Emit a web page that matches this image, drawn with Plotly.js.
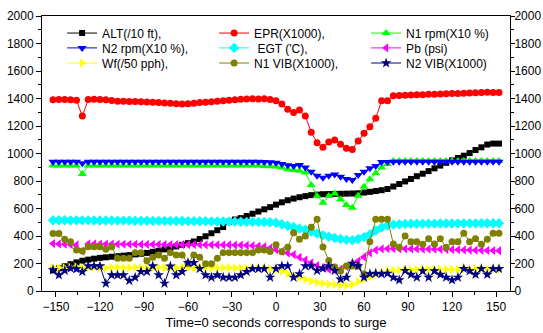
<!DOCTYPE html>
<html>
<head>
<meta charset="utf-8">
<script src="https://cdn.plot.ly/plotly-3.0.1.min.js"></script>
<style>html,body{margin:0;padding:0;background:#fff;}#chart{width:543px;height:333px;}</style>
</head>
<body>
<div id="chart"></div>
<script>
// Time (s), 0 = surge
var time = [-152,-148,-144,-140,-136,-132,-128,-124,-120,-116,-112,-108,-104,-100,-96,-92,-88,-84,-80,-76,-72,-68,-64,-60,-56,-52,-48,-44,-40,-36,-32,-28,-24,-20,-16,-12,-8,-4,0,4,8,12,16,20,24,28,32,36,40,44,48,52,56,60,64,68,72,76,80,84,88,92,96,100,104,108,112,116,120,124,128,132,136,140,144,148,152];

var alt = [150,165,180,195,208,220,228,235,241,245,249,253,257,261,266,271,277,285,293,303,313,324,336,348,360,378,398,420,442,465,505,520,530,545,562,578,594,610,628,645,660,672,682,690,697,701,704,705,706,707,708,709,711,716,721,727,733,742,760,778,797,815,835,853,872,892,912,932,950,967,984,1003,1025,1045,1065,1072,1072];

var epr = [1390,1392,1392,1390,1388,1272,1392,1394,1393,1390,1385,1380,1380,1378,1378,1376,1374,1372,1370,1368,1366,1362,1360,1362,1366,1370,1372,1376,1380,1384,1388,1390,1394,1396,1398,1396,1398,1392,1384,1360,1321,1299,1316,1273,1154,1079,1045,1084,1098,1067,1038,1030,1091,1147,1195,1256,1384,1384,1420,1422,1424,1425,1427,1428,1430,1431,1432,1434,1436,1437,1439,1440,1442,1444,1446,1444,1444];

var n1rpm = [912,912,912,912,912,851,912,912,912,912,912,912,912,912,912,912,912,912,912,912,912,912,912,912,912,912,912,912,912,912,912,912,912,912,912,912,910,908,905,899,885,880,875,861,771,691,642,691,710,667,625,606,693,759,812,856,899,924,945,945,945,945,945,945,945,945,945,945,945,945,945,945,945,945,945,945,945];

var n2rpm = [940,940,940,940,940,930,940,940,940,940,940,940,940,940,940,940,940,940,940,940,940,940,940,940,940,940,940,940,940,940,940,940,940,940,940,940,938,936,933,924,914,909,916,899,868,839,824,839,848,831,815,807,844,868,892,909,938,938,940,940,940,940,940,940,940,940,940,940,940,940,940,940,940,940,940,940,940];

var egt = [515,515,515,514,514,514,514,513,513,513,513,512,512,512,511,511,511,510,510,510,510,509,509,508,508,507,507,506,506,505,505,504,504,503,503,502,502,500,496,485,475,465,455,445,432,418,405,395,385,378,372,370,378,392,412,440,462,476,483,486,488,489,489,490,490,490,491,491,491,492,492,492,492,493,493,493,493];

var pb = [345,342,340,338,335,290,342,342,341,341,341,340,340,340,340,339,339,339,339,338,338,338,338,337,337,337,336,336,336,335,335,334,333,332,330,327,322,312,300,288,276,265,245,225,205,185,168,157,152,160,178,195,218,248,278,298,306,308,308,307,307,306,306,305,305,304,303,302,301,300,299,298,297,296,295,294,293];

var wf = [172,170,168,172,175,170,168,172,170,168,170,172,168,170,172,170,168,170,172,170,168,170,172,170,168,170,172,170,168,170,170,168,166,165,165,163,162,160,155,142,125,110,96,84,72,62,55,50,46,42,40,48,68,88,105,122,137,148,150,152,154,155,155,156,156,157,157,157,158,158,158,158,159,159,159,158,157];

var n1vib = [419,419,376,359,298,291,322,322,322,303,322,238,238,238,279,279,220,245,262,238,279,262,262,200,262,245,198,198,238,279,279,279,279,279,279,298,298,288,337,286,318,424,376,400,463,521,320,222,175,145,182,182,180,124,359,521,521,521,342,318,400,359,359,340,380,342,380,318,359,359,420,359,380,340,376,420,420];

var n2vib = [153,116,148,165,160,141,182,182,182,55,116,116,116,75,99,141,141,182,116,55,180,116,141,206,206,162,116,99,116,99,99,99,116,141,162,162,162,99,162,182,182,99,124,182,182,148,165,182,148,85,99,201,182,99,124,128,124,128,99,80,148,120,99,145,99,145,120,99,80,99,162,145,120,162,120,162,162];

var names = ["ALT(/10 ft),","EPR(X1000),","N1 rpm(X10 %)","N2 rpm(X10 %),"," EGT ('C),","Pb (psi)","Wf(/50 pph),","N1 VIB(X1000),","N2 VIB(X1000)"];
var series = [alt, epr, n1rpm, n2rpm, egt, pb, wf, n1vib, n2vib];
var colors = ["#000000","#ff0000","#00ff00","#0000ff","#00ffff","#ff00ff","#ffff00","#808000","#000080"];
var symbols = ["square","circle","triangle-up","triangle-down","diamond","triangle-left","triangle-right","circle","star"];
var sizes = [6,7,8,8,8,8,8,7,8];
var legends = ["legend","legend","legend","legend2","legend2","legend2","legend3","legend3","legend3"];

var traces = series.map(function(s, i){
  return {
    x: time, y: s, name: names[i], type: 'scatter', mode: 'lines+markers',
    line: {color: colors[i], width: 1},
    marker: {color: colors[i], symbol: symbols[i], size: sizes[i], line: {width: 0}},
    legend: legends[i], hoverinfo: 'skip'
  };
});
traces.push({x: [0], y: [null], yaxis: 'y2', showlegend: false, hoverinfo: 'skip', mode: 'markers'});

var font = {family: 'Arial, "Liberation Sans", sans-serif', size: 12, color: '#000'};
var legBase = {orientation: 'h', xanchor: 'left', yanchor: 'middle', x: 0.043, entrywidth: 107, entrywidthmode: 'pixels', bgcolor: 'rgba(0,0,0,0)', font: font, itemwidth: 30};
function leg(y){ var o = JSON.parse(JSON.stringify(legBase)); o.y = y; return o; }

var yax = {range: [0, 2000], dtick: 200, tick0: 0, ticks: 'outside', ticklen: 5, tickwidth: 1, tickcolor: '#000',
  showline: true, linecolor: '#000', linewidth: 1, showgrid: false, zeroline: false, tickfont: font,
  minor: {dtick: 100, ticks: 'outside', ticklen: 3, tickcolor: '#000', showgrid: false}, fixedrange: true};
var yax2 = JSON.parse(JSON.stringify(yax));
yax2.overlaying = 'y'; yax2.side = 'right'; yax2.ticklen = 4; yax2.ticklabelstandoff = -3;

var layout = {
  width: 543, height: 333,
  margin: {l: 42, r: 33, t: 16, b: 42},
  paper_bgcolor: '#fff', plot_bgcolor: '#fff',
  font: font,
  showlegend: true,
  xaxis: {range: [-159.5, 159.5], dtick: 30, tick0: 0, ticks: 'outside', ticklen: 5, tickcolor: '#000',
    showline: true, mirror: true, linecolor: '#000', linewidth: 1, showgrid: false, zeroline: false, tickfont: font,
    minor: {dtick: 15, ticks: 'outside', ticklen: 3, tickcolor: '#000', showgrid: false},
    title: {text: 'Time=0 seconds corresponds to surge', font: {family: font.family, size: 13, color: '#000'}, standoff: 4}},
  yaxis: yax,
  yaxis2: yax2,
  legend: leg(0.938),
  legend2: leg(0.884),
  legend3: leg(0.829)
};

Plotly.newPlot('chart', traces, layout, {staticPlot: true, displayModeBar: false});
</script>
</body>
</html>
